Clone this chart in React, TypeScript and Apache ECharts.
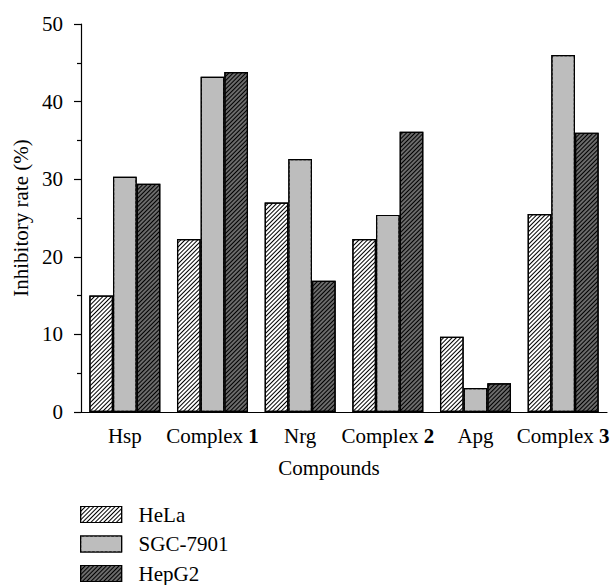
import React, { useEffect, useRef } from "react";
import * as echarts from "echarts";

const categories = ["Hsp", "Complex 1", "Nrg", "Complex 2", "Apg", "Complex 3"];
const helaValues = [15.0, 22.3, 27.0, 22.3, 9.7, 25.5];
const sgcValues = [30.3, 43.2, 32.6, 25.4, 3.1, 46.0];
const hepg2Values = [29.4, 43.8, 16.9, 36.1, 3.7, 36.0];
const yTicks = { min: 0, max: 50, interval: 10 };

const FONT = "Liberation Serif";
const FS = 21;

const hatch = (bg: string, color = "#000") => ({
  symbol: "rect",
  symbolSize: 1,
  color,
  backgroundColor: bg,
  dashArrayX: [1, 0],
  dashArrayY: [1, 2],
  rotation: -Math.PI / 4,
});

export default function App() {
  const ref = useRef<HTMLDivElement>(null);
  useEffect(() => {
    const chart = echarts.init(ref.current!, undefined, { renderer: "svg" });
    const border = { borderColor: "#000", borderWidth: 1.2 };
    chart.setOption({
      animation: false,
      aria: { enabled: true, decal: { show: true } },
      textStyle: { fontFamily: FONT, fontSize: FS, color: "#000" },
      grid: { left: 81, right: 7, top: 24, bottom: 173, containLabel: false },
      legend: {
        orient: "vertical",
        left: 80,
        top: 504,
        padding: 0,
        icon: "rect",
        itemWidth: 41,
        itemHeight: 16,
        itemGap: 8.5,
        itemStyle: { borderColor: "#000", borderWidth: 1.2 },
        textStyle: { fontFamily: FONT, fontSize: FS, color: "#000", padding: [0, 0, 0, 12] },
        data: ["HeLa", "SGC-7901", "HepG2"],
      },
      xAxis: [
        {
          type: "category",
          data: categories,
          name: "Compounds",
          nameLocation: "middle",
          nameGap: 45,
          nameTextStyle: { fontFamily: FONT, fontSize: FS, color: "#000", padding: [0, 30, 0, 0] },
          axisLine: { lineStyle: { color: "#000", width: 1.2 } },
          axisTick: { alignWithLabel: true, length: 6, lineStyle: { color: "#000", width: 1.2 } },
          axisLabel: {
            interval: 0,
            margin: 13,
            color: "#000",
            fontFamily: FONT,
            fontSize: FS,
            formatter: (v: string) => v.replace(/(\d)$/, "{b|$1}"),
            rich: { b: { fontWeight: "bold", fontFamily: FONT, fontSize: FS, color: "#000" } },
          },
        },
        {
          type: "category",
          data: categories,
          position: "bottom",
          axisLine: { show: false },
          axisTick: { alignWithLabel: false, length: 3, lineStyle: { color: "#000", width: 1.2 } },
          axisLabel: { show: false },
        },
      ],
      yAxis: {
        type: "value",
        min: yTicks.min,
        max: yTicks.max,
        interval: yTicks.interval,
        name: "Inhibitory rate (%)",
        nameLocation: "middle",
        nameGap: 48,
        nameTextStyle: { fontFamily: FONT, fontSize: FS, color: "#000" },
        axisLine: { show: true, lineStyle: { color: "#000", width: 1.2 } },
        axisTick: { show: true, length: 7, lineStyle: { color: "#000", width: 1.2 } },
        minorTick: { show: true, splitNumber: 2, length: 4, lineStyle: { color: "#000", width: 1.2 } },
        splitLine: { show: false },
        axisLabel: { margin: 18, color: "#000", fontFamily: FONT, fontSize: FS },
      },
      series: [
        {
          name: "HeLa",
          type: "bar",
          data: helaValues,
          barGap: "0%",
          barCategoryGap: "19%",
          itemStyle: { color: "#fff", ...border, decal: hatch("#fff") },
        },
        {
          name: "SGC-7901",
          type: "bar",
          data: sgcValues,
          barGap: "0%",
          barCategoryGap: "19%",
          itemStyle: { color: "#bdbdbd", ...border, decal: hatch("#bdbdbd", "#bdbdbd") },
        },
        {
          name: "HepG2",
          type: "bar",
          data: hepg2Values,
          barGap: "0%",
          barCategoryGap: "19%",
          itemStyle: { color: "#6b6b6b", ...border, decal: hatch("#6b6b6b") },
        },
      ],
    });
    return () => chart.dispose();
  }, []);
  return <div ref={ref} style={{ width: 614, height: 585, position: "absolute", left: 0, top: 0 }} />;
}
